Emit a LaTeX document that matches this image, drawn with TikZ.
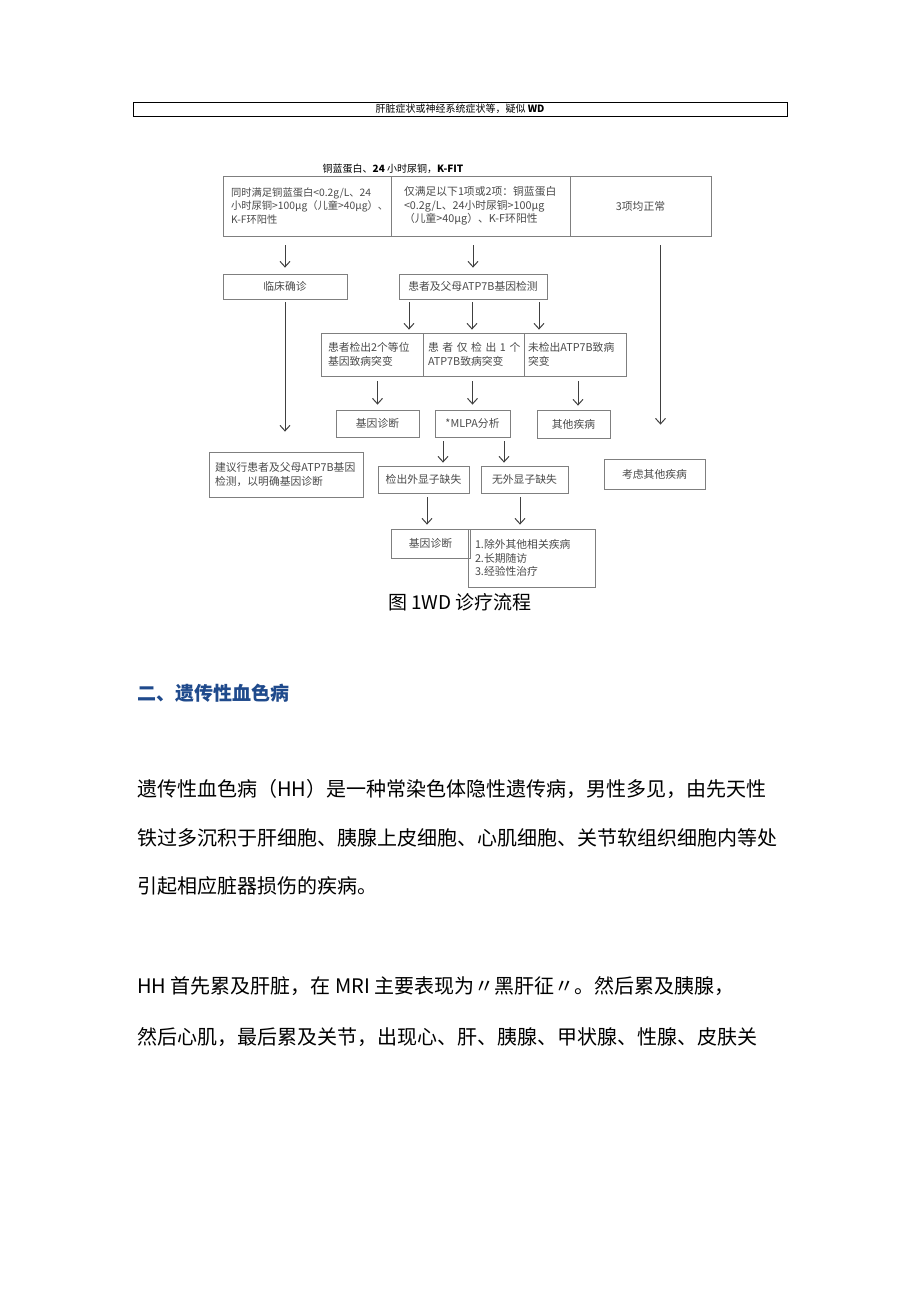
\documentclass[tikz,border=0pt]{standalone}
\usepackage{fontspec}
\setmainfont{Noto Sans CJK SC}
\usetikzlibrary{arrows.meta}
\definecolor{frame}{HTML}{7F7F7F}
\definecolor{txt}{HTML}{4A4A4A}
\definecolor{arr}{HTML}{404040}
\definecolor{head}{HTML}{1F4A8C}
\tikzset{>={Straight Barb[length=5.5pt,width=10pt]}}
\tikzset{
  box/.style={shape=rectangle, draw=frame, line width=0.8pt, text=txt, inner sep=0pt, font=\fontsize{10.8}{13.5}\selectfont},
  tbox/.style={box, align=left},
  flow/.style={->, draw, line width=1pt, color=arr},
  body/.style={anchor=base west, inner sep=0pt, font=\fontsize{20}{24}\selectfont},
}

\begin{document}
\begin{tikzpicture}[x=1pt, y=-1pt]
    \useasboundingbox[fill=white] (0,0) rectangle (920,1301);

    \node at (460,109) (sign) [shape=rectangle, draw=black, line width=0.6pt, minimum width=654pt, minimum height=14pt, inner sep=0pt, font=\fontsize{10}{12}\selectfont] {肝脏症状或神经系统症状等，疑似 \textbf{WD}};
    \node at (393,169) (tests) [inner sep=0pt, font=\fontsize{10}{12}\selectfont] {铜蓝蛋白、\textbf{24} 小时尿铜，\textbf{K-FIT}};

    \node at (307,206) (allmet) [tbox, minimum width=168pt, minimum height=60pt, text width=152pt, font=\fontsize{10.3}{13.5}\selectfont] {同时满足铜蓝蛋白<0.2g/L、24\\小时尿铜>100μg（儿童>40μg）、\\K-F环阳性};
    \node at (480.5,206) (partmet) [tbox, minimum width=179pt, minimum height=60pt, text width=153pt] {仅满足以下1项或2项：铜蓝蛋白\\<0.2g/L、24小时尿铜>100μg\\（儿童>40μg）、K-F环阳性};
    \node at (640.5,206) (normal) [box, minimum width=141pt, minimum height=60pt] {3项均正常};

    \node at (285,286.5) (clin) [box, minimum width=124pt, minimum height=25pt] {临床确诊};
    \node at (473,286.5) (gene) [box, minimum width=148pt, minimum height=25pt] {患者及父母ATP7B基因检测};

    \node at (372,354.5) (two) [tbox, minimum width=102pt, minimum height=43pt, text width=88pt] {患者检出2个等位\\基因致病突变};
    \node at (473.5,354.5) (one) [tbox, minimum width=101pt, minimum height=43pt, text width=91pt] {患~者~仅~检~出~1~个\\ATP7B致病突变};
    \node at (575,354.5) (none) [tbox, minimum width=102pt, minimum height=43pt, text width=94pt] {未检出ATP7B致病\\突变};

    \node at (377.5,423.5) (gdx) [box, minimum width=83pt, minimum height=27pt] {基因诊断};
    \node at (472.5,423.5) (mlpa) [box, minimum width=75pt, minimum height=27pt] {*MLPA分析};
    \node at (573.5,424) (other) [box, minimum width=73pt, minimum height=28pt] {其他疾病};

    \node at (286,474.5) (advise) [tbox, minimum width=154pt, minimum height=45pt, text width=142pt] {建议行患者及父母ATP7B基因\\检测，以明确基因诊断};
    \node at (654.5,474) (consider) [box, minimum width=101pt, minimum height=30pt] {考虑其他疾病};
    \node at (423.5,479.5) (del) [box, minimum width=91pt, minimum height=27pt] {检出外显子缺失};
    \node at (524.5,479.5) (nodel) [box, minimum width=87pt, minimum height=27pt] {无外显子缺失};

    \node at (430.5,543.5) (gdx2) [box, minimum width=79pt, minimum height=29pt] {基因诊断};
    \node at (531.5,558) (follow) [tbox, minimum width=127pt, minimum height=58pt, text width=113pt] {1.除外其他相关疾病\\2.长期随访\\3.经验性治疗};

    \path[flow, shorten <=9pt, shorten >=6pt] (clin.north |- allmet.south) -- (clin.north);
    \path[flow, shorten <=9pt, shorten >=6pt] (gene.north |- partmet.south) -- (gene.north);
    \path[flow, shorten <=9pt, shorten >=34pt] ([xshift=20pt]normal.south) -- ([xshift=20pt]normal.south |- consider.north);
    \path[flow, shorten <=3pt, shorten >=20pt] (clin.south) -- (clin.south |- advise.north);

    \path[flow, shorten <=3pt, shorten >=3pt] ([xshift=-64pt]gene.south) -- ([xshift=-64pt]gene.south |- two.north);
    \path[flow, shorten <=3pt, shorten >=3pt] ([xshift=-1pt]gene.south) -- ([xshift=-1pt]gene.south |- one.north);
    \path[flow, shorten <=3pt, shorten >=3pt] ([xshift=66pt]gene.south) -- ([xshift=66pt]gene.south |- none.north);

    \path[flow, shorten <=5pt, shorten >=5pt] (two.south -| gdx.north) -- (gdx.north);
    \path[flow, shorten <=5pt, shorten >=5pt] (one.south -| mlpa.north) -- (mlpa.north);
    \path[flow, shorten <=5pt, shorten >=4pt] ([xshift=3pt]none.south) -- ([xshift=3pt]none.south |- other.north);

    \path[flow, shorten <=4pt, shorten >=3pt] ([xshift=-29.5pt]mlpa.south) -- ([xshift=-29.5pt]mlpa.south |- del.north);
    \path[flow, shorten <=4pt, shorten >=3pt] ([xshift=31.5pt]mlpa.south) -- ([xshift=31.5pt]mlpa.south |- nodel.north);

    \path[flow, shorten <=4pt, shorten >=4pt] ([xshift=3.5pt]del.south) -- ([xshift=3.5pt]del.south |- gdx2.north);
    \path[flow, shorten <=4pt, shorten >=4pt] ([xshift=-4.5pt]nodel.south) -- ([xshift=-4.5pt]nodel.south |- follow.north);

    \node at (460,609) (caption) [anchor=base, inner sep=0pt, font=\fontsize{19}{23}\selectfont] {图 1WD 诊疗流程};

    \node at (137,700) (section) [anchor=base west, inner sep=0pt, text=head, font=\fontsize{19}{23}\selectfont\bfseries] {二、遗传性血色病};

    \node at (137,796) (pa1) [body] {遗传性血色病（HH）是一种常染色体隐性遗传病，男性多见，由先天性};
    \node at (137,845) (pa2) [body] {铁过多沉积于肝细胞、胰腺上皮细胞、心肌细胞、关节软组织细胞内等处};
    \node at (137,893) (pa3) [body] {引起相应脏器损伤的疾病。};

    \node at (137,993) (pb1) [body] {HH 首先累及肝脏，在 MRI 主要表现为〃黑肝征〃。然后累及胰腺，};
    \node at (137,1044) (pb2) [body] {然后心肌，最后累及关节，出现心、肝、胰腺、甲状腺、性腺、皮肤关};
\end{tikzpicture}
\end{document}
